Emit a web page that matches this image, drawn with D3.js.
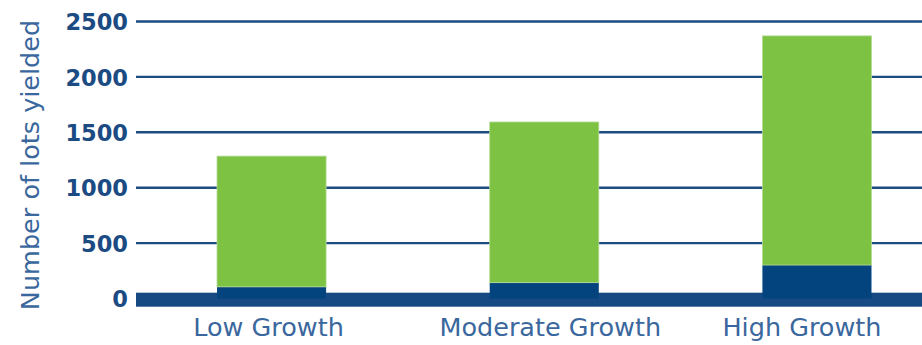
<!DOCTYPE html>
<html>
<head>
<meta charset="utf-8">
<script src="https://cdn.jsdelivr.net/npm/d3@7"></script>
<style>
  html, body { margin: 0; padding: 0; background: #fff; }
  svg { display: block; }
</style>
</head>
<body>
<svg id="chart" width="922" height="345"></svg>
<script>
// Lots yielded per growth scenario, split into two stacked parts
const categories = ["Low Growth", "Moderate Growth", "High Growth"];
const baseLots = [105, 143, 302];
const additionalLots = [1180, 1450, 2068];
const yTicks = [0, 500, 1000, 1500, 2000, 2500];

const W = 922, H = 345;
const svg = d3.select("#chart");

const x = d3.scaleBand()
  .domain(categories)
  .range([135.2, 953.3])
  .paddingInner(0.6)
  .paddingOuter(0.3);

const y = d3.scaleLinear()
  .domain([0, 2500])
  .range([298.5, 21.5]);

const navy = "#1c4b83";
const barNavy = "#03447f";
const green = "#7dc243";
const labelBlue = "#3a679d";
const font = "'DejaVu Sans', sans-serif";

// horizontal grid lines
svg.append("g")
  .selectAll("line")
  .data(yTicks.filter(d => d > 0))
  .join("line")
  .attr("x1", 136).attr("x2", W)
  .attr("y1", d => y(d)).attr("y2", d => y(d))
  .attr("stroke", navy)
  .attr("stroke-width", 2.4);

// thick baseline band
svg.append("rect")
  .attr("x", 136).attr("width", W - 136)
  .attr("y", y(0) - 5.8).attr("height", 14)
  .attr("fill", "#174a82");

// stacked bars
const stackData = categories.map((c, i) => ({ cat: c, base: baseLots[i], extra: additionalLots[i] }));
const series = d3.stack().keys(["base", "extra"])(stackData);
const colors = { base: barNavy, extra: green };
const edges = { base: "none", extra: "#b4db94" };

svg.append("g")
  .selectAll("g")
  .data(series)
  .join("g")
  .attr("fill", d => colors[d.key])
  .attr("stroke", d => edges[d.key])
  .attr("stroke-width", 0.8)
  .selectAll("rect")
  .data(d => d)
  .join("rect")
  .attr("x", d => x(d.data.cat))
  .attr("width", x.bandwidth())
  .attr("y", d => y(d[1]))
  .attr("height", d => y(d[0]) - y(d[1]));

// y tick labels
const yAxis = d3.axisLeft(y).tickValues(yTicks).tickFormat(d3.format("d")).tickSize(0).tickPadding(0);
const gy = svg.append("g")
  .attr("transform", "translate(128,0)")
  .call(yAxis);
gy.select(".domain").remove();
gy.selectAll("text")
  .attr("fill", navy)
  .attr("font-family", font)
  .attr("font-weight", 700)
  .attr("font-size", 22.5)
  .attr("dy", "0.36em");

// x category labels (slightly nudged, as laid out in the printed figure)
const labelShift = { "Low Growth": -3, "Moderate Growth": 6, "High Growth": -15 };
const xAxis = d3.axisBottom(x).tickSize(0).tickPadding(0);
const gx = svg.append("g")
  .attr("transform", "translate(0,336)")
  .call(xAxis);
gx.select(".domain").remove();
gx.selectAll("text")
  .attr("fill", labelBlue)
  .attr("font-family", font)
  .attr("font-weight", 400)
  .attr("font-size", 25.5)
  .attr("dy", 0)
  .attr("y", 0)
  .attr("x", d => labelShift[d]);

// y axis title
svg.append("text")
  .attr("transform", "translate(39,165) rotate(-90)")
  .attr("text-anchor", "middle")
  .attr("fill", labelBlue)
  .attr("font-family", font)
  .attr("font-weight", 400)
  .attr("font-size", 25.5)
  .text("Number of lots yielded");
</script>
</body>
</html>
